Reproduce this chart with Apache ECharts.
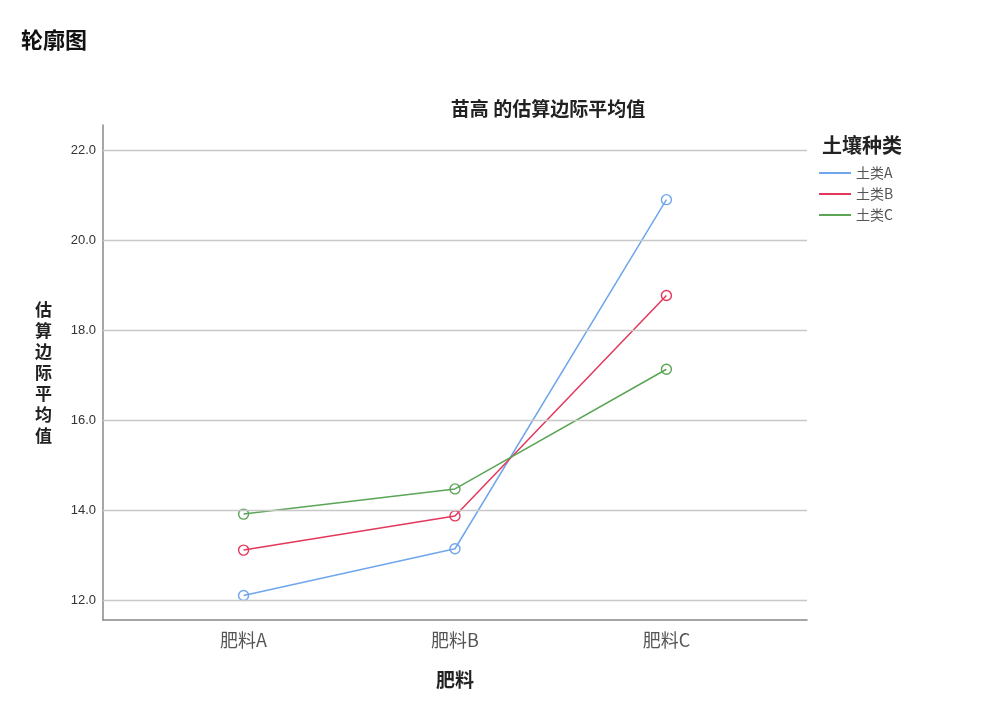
<!DOCTYPE html>
<html>
<head>
<meta charset="utf-8">
<script src="https://cdn.jsdelivr.net/npm/echarts@6/dist/echarts.min.js"></script>
<style>
  html, body { margin: 0; padding: 0; background: #fff; }
  #chart { width: 991px; height: 715px; }
</style>
</head>
<body>
<div id="chart"></div>
<script>
// 肥料 categories and 土壤种类 series (estimated marginal means of 苗高)
var fertilizers = ['肥料A', '肥料B', '肥料C'];
var soilNames = ['土类A', '土类B', '土类C'];
var soilA = [12.10, 13.14, 20.90];
var soilB = [13.11, 13.87, 18.77];
var soilC = [13.91, 14.47, 17.13];
var yTicks = [12, 14, 16, 18, 20, 22];

var colors = ['#6fa6ec', '#e3385c', '#5aa556'];
var cjk = '"Noto Sans CJK SC", "Noto Sans", sans-serif';

function toPoints(arr) {
    var out = [];
    for (var i = 0; i < arr.length; i++) {
        out.push([i, arr[i]]);
    }
    return out;
}

var chartDom = document.getElementById('chart');
var myChart = echarts.init(chartDom);
var option;

var allSeries = [soilA, soilB, soilC];
var series = [];
for (var s = 0; s < allSeries.length; s++) {
    series.push({
        name: soilNames[s],
        type: 'line',
        data: toPoints(allSeries[s]),
        symbol: 'circle',
        symbolSize: 10,
        showSymbol: true,
        itemStyle: { color: 'rgba(255,255,255,0)', borderColor: colors[s], borderWidth: 1.4 },
        lineStyle: { color: colors[s], width: 1.5 },
        emphasis: { disabled: true }
    });
}

option = {
    animation: false,
    backgroundColor: '#fff',
    color: colors,
    title: [
        {
            text: '轮廓图',
            left: 16,
            top: 24,
            textStyle: { fontFamily: cjk, fontSize: 22, fontWeight: 'bold', color: '#111' }
        },
        {
            text: '苗高 的估算边际平均值',
            left: 543,
            textAlign: 'center',
            top: 94,
            textStyle: { fontFamily: cjk, fontSize: 19, fontWeight: 'bold', color: '#222' }
        },
        {
            text: '土壤种类',
            left: 817,
            top: 130,
            textStyle: { fontFamily: cjk, fontSize: 20, fontWeight: 'bold', color: '#222' }
        }
    ],
    legend: {
        orient: 'vertical',
        left: 814,
        top: 161,
        itemWidth: 32,
        itemHeight: 2,
        itemGap: 7,
        icon: 'rect',
        data: soilNames.map(function (n, i) {
            return { name: n, itemStyle: { color: colors[i], borderWidth: 0 } };
        }),
        textStyle: { fontFamily: cjk, fontSize: 14, color: '#555' }
    },
    grid: {
        left: 103,
        right: 184,
        top: 125,
        bottom: 95,
        containLabel: false
    },
    xAxis: {
        type: 'value',
        min: -0.665,
        max: 2.665,
        name: '肥料',
        nameLocation: 'middle',
        nameGap: 50,
        nameTextStyle: { fontFamily: cjk, fontSize: 19, fontWeight: 'bold', color: '#222' },
        axisLine: { show: true, onZero: false, lineStyle: { color: '#888', width: 1.5 } },
        axisTick: { show: false },
        splitLine: { show: false },
        axisLabel: {
            customValues: [0, 1, 2],
            margin: 11,
            fontFamily: cjk,
            fontSize: 18,
            color: '#555',
            formatter: function (v) { return fertilizers[Math.round(v)]; }
        }
    },
    yAxis: {
        type: 'value',
        min: 11.556,
        max: 22.56,
        name: '估算边际平均值'.split('').join('\n'),
        nameLocation: 'middle',
        nameRotate: 0,
        nameGap: 51,
        nameTextStyle: { fontFamily: cjk, fontSize: 17, fontWeight: 'bold', color: '#222', lineHeight: 21 },
        axisLine: { show: true, onZero: false, lineStyle: { color: '#888', width: 1.5 } },
        axisTick: { show: false },
        axisLabel: {
            customValues: yTicks,
            margin: 7,
            fontFamily: 'Arial, "Liberation Sans", sans-serif',
            fontSize: 13,
            color: '#333',
            formatter: function (v) { return v.toFixed(1); }
        },
        splitLine: { show: false }
    },
    series: series.concat([{
        type: 'line',
        silent: true,
        data: [],
        markLine: {
            silent: true,
            symbol: 'none',
            label: { show: false },
            lineStyle: { color: '#c8c8c8', width: 1.3, type: 'solid' },
            data: yTicks.map(function (t) { return { yAxis: t }; })
        },
        z: 1
    }])
};

option && myChart.setOption(option);
</script>
</body>
</html>
